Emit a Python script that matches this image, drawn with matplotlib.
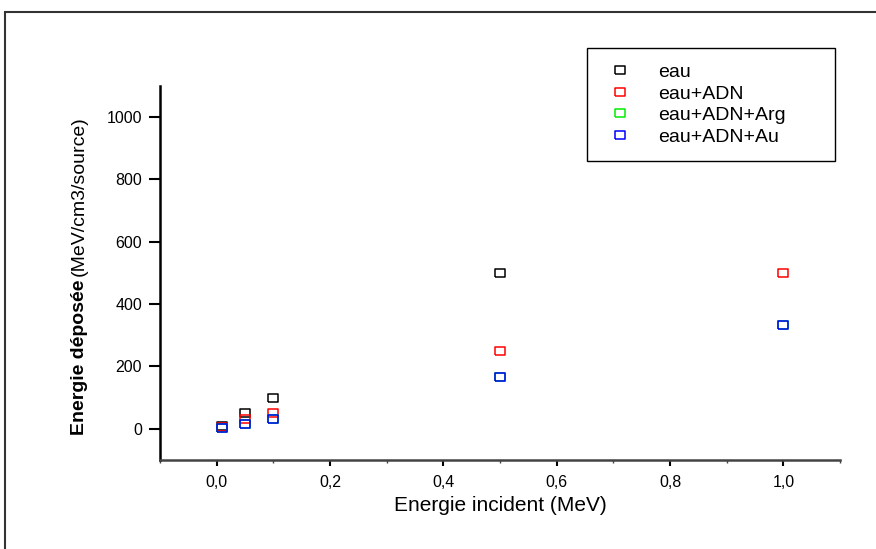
import matplotlib
matplotlib.use("Agg")
import matplotlib.pyplot as plt
from matplotlib.patches import Rectangle
from matplotlib.ticker import FuncFormatter, MultipleLocator

plt.rcParams["font.family"] = ["Liberation Sans", "DejaVu Sans"]

# ── data ─────────────────────────────────────────────────────────────────
energie = [0.01, 0.05, 0.1, 0.5, 1.0]
eau = [10, 50, 100, 500]
eau_adn = [5, 33, 50, 250, 500]
eau_adn_arg = [3.3, 17, 33, 167, 333]
eau_adn_au = [3.3, 17, 33, 167, 333]

SERIES = [
    ("eau", eau, "black"),
    ("eau+ADN", eau_adn, "red"),
    ("eau+ADN+Arg", eau_adn_arg, "#00ee00"),
    ("eau+ADN+Au", eau_adn_au, "blue"),
]

# slightly wide hollow square, as in the original export
BOX = [(-1.25, -1), (1.25, -1), (1.25, 1), (-1.25, 1), (-1.25, -1)]

W, H = 876, 549
fig = plt.figure(figsize=(W / 100, H / 100), dpi=100)
ax = fig.add_axes([160 / W, 1 - 460 / H, 680 / W, 374 / H])

for label, vals, col in SERIES:
    ax.plot(energie[:len(vals)], vals, linestyle="", marker=BOX,
            markersize=7.5, markerfacecolor="none", markeredgecolor=col,
            markeredgewidth=1.1, label=label)

ax.set_xlim(-0.1, 1.1)
ax.set_ylim(-100, 1100)
ax.xaxis.set_major_locator(MultipleLocator(0.2))
ax.xaxis.set_minor_locator(MultipleLocator(0.1))
ax.set_yticks([0, 200, 400, 600, 800, 1000])
ax.xaxis.set_major_formatter(FuncFormatter(lambda v, p: f"{v:.1f}".replace(".", ",")))

for side in ("top", "right"):
    ax.spines[side].set_visible(False)
ax.spines["left"].set_linewidth(1.8)
ax.spines["left"].set_color("black")
ax.spines["bottom"].set_linewidth(1.8)
ax.spines["bottom"].set_color("#444444")

ax.tick_params(axis="both", which="major", direction="out", width=1.5,
               labelsize=11.5, colors="black")
ax.tick_params(axis="y", which="major", length=8, pad=5)
ax.tick_params(axis="x", which="major", length=4, pad=7)
ax.tick_params(axis="x", which="minor", length=2, width=1, color="#444444")

ax.set_xlabel("Energie incident (MeV)", fontsize=15, labelpad=4)

# y label: bold part + normal part, stacked along the rotated axis
t1 = fig.text(79 / W, 1 - 435 / H, "Energie déposée", rotation=90,
              ha="center", va="bottom", fontsize=14, fontweight="bold")
fig.canvas.draw()
bb = t1.get_window_extent()
fig.text(79 / W, (bb.y1 + 4) / H, "(MeV/cm3/source)", rotation=90,
         ha="center", va="bottom", fontsize=14)

leg = ax.legend(loc="upper left",
                bbox_to_anchor=(587 / W, 1 - 153 / H, 248 / W, 105 / H),
                bbox_transform=fig.transFigure, mode="expand",
                fontsize=14, frameon=True, fancybox=False, edgecolor="black",
                borderpad=0.8, labelspacing=0.2, handlelength=1.8,
                handletextpad=1.05, borderaxespad=0)
leg.get_frame().set_linewidth(1.0)
leg.get_frame().set_alpha(1)

# outer frame around the whole graph page
fig.patches.append(Rectangle((5 / W, -0.1), 1.2, 1 - 12 / H + 0.1,
                             transform=fig.transFigure, fill=False,
                             edgecolor="#333333", linewidth=1.5))

fig.savefig("out.png", dpi=100)
